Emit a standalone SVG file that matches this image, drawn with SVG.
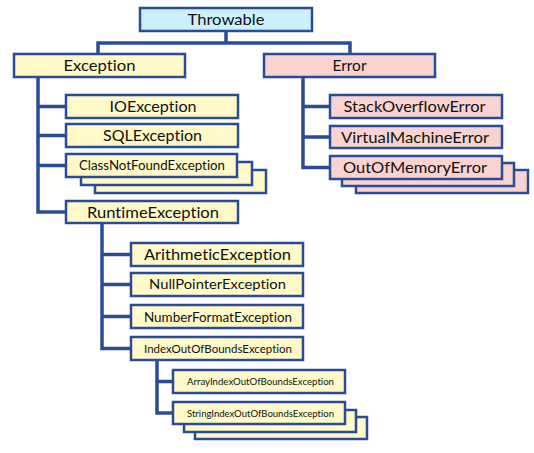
<svg xmlns="http://www.w3.org/2000/svg" width="534" height="453" viewBox="0 0 534 453">
<style>
.b{stroke:#2A4B96;stroke-width:2.5}
.y{fill:#FFFAC8}
.p{fill:#F9D3D0}
.c{fill:#CCF0FD}
text{font-family:Lato,"Liberation Sans",sans-serif;fill:#111;text-anchor:middle;font-variant-ligatures:none}
.l{font-size:16px}
.con{fill:none;stroke:#2A4B96;stroke-width:3.5;stroke-linejoin:miter}
</style>
<rect width="534" height="453" fill="#fff"/>
<g id="connectors">
<path class="con" d="M226 31V43M98 55V43H350V55"/>
<path class="con" d="M38 77V212H66M38 106.5H66M38 135.5H66M38 165.5H66"/>
<path class="con" d="M303 77V167.5H330M303 106.5H330M303 137H330"/>
<path class="con" d="M102 223V348.5H131M102 254.5H131M102 284.5H131M102 316.5H131"/>
<path class="con" d="M157 360V413H173M157 381.5H173"/>
</g>
<g id="throwable"><rect class="b c" x="140" y="8" width="172" height="23"/><text class="l" x="226" y="25.3" textLength="77" lengthAdjust="spacingAndGlyphs">Throwable</text></g>
<g id="exception"><rect class="b y" x="14" y="54" width="171" height="23"/><text class="l" x="99.5" y="71.3" textLength="72" lengthAdjust="spacingAndGlyphs">Exception</text></g>
<g id="error"><rect class="b p" x="264" y="54" width="171" height="23"/><text class="l" x="349.5" y="71.3" textLength="34" lengthAdjust="spacingAndGlyphs">Error</text></g>
<g id="ioexception"><rect class="b y" x="66" y="95" width="172" height="23"/><text class="l" x="153" y="112.3" textLength="87" lengthAdjust="spacingAndGlyphs">IOException</text></g>
<g id="sqlexception"><rect class="b y" x="66" y="124" width="172" height="23"/><text class="l" x="152.5" y="141.3" textLength="99" lengthAdjust="spacingAndGlyphs">SQLException</text></g>
<g id="classnotfound">
<rect class="b y" x="95" y="170" width="171" height="23"/>
<rect class="b y" x="81" y="162" width="171" height="23"/>
<rect class="b y" x="66" y="154" width="171" height="23"/>
<text style="font-size:12.5px" x="152" y="170" textLength="146" lengthAdjust="spacingAndGlyphs">ClassNotFoundException</text></g>
<g id="runtime"><rect class="b y" x="66" y="201" width="172" height="22"/><text class="l" x="153" y="217.8" textLength="132" lengthAdjust="spacingAndGlyphs">RuntimeException</text></g>
<g id="arithmetic"><rect class="b y" x="131" y="243" width="172" height="23"/><text style="font-size:15px" x="217.5" y="259.9" textLength="147" lengthAdjust="spacingAndGlyphs">ArithmeticException</text></g>
<g id="nullpointer"><rect class="b y" x="131" y="273" width="172" height="23"/><text style="font-size:13px" x="217.5" y="289.2" textLength="137" lengthAdjust="spacingAndGlyphs">NullPointerException</text></g>
<g id="numberformat"><rect class="b y" x="131" y="305" width="172" height="23"/><text style="font-size:14px" x="218" y="321.5" textLength="148" lengthAdjust="spacingAndGlyphs">NumberFormatException</text></g>
<g id="indexoutofbounds"><rect class="b y" x="131" y="337" width="172" height="23"/><text style="font-size:12px" x="218" y="352.8" textLength="148" lengthAdjust="spacingAndGlyphs">IndexOutOfBoundsException</text></g>
<g id="arrayindex"><rect class="b y" x="173" y="370" width="172" height="23"/><text style="font-size:10px" x="260.5" y="385.1" textLength="147" lengthAdjust="spacingAndGlyphs">ArrayIndexOutOfBoundsException</text></g>
<g id="stringindex">
<rect class="b y" x="195" y="417" width="172" height="22"/>
<rect class="b y" x="184" y="410" width="172" height="22"/>
<rect class="b y" x="173" y="402" width="172" height="22"/>
<text style="font-size:10px" x="260.5" y="416.6" textLength="147" lengthAdjust="spacingAndGlyphs">StringIndexOutOfBoundsException</text></g>
<g id="stackoverflow"><rect class="b p" x="330" y="95" width="172" height="23"/><text class="l" x="414.5" y="112.3" textLength="142" lengthAdjust="spacingAndGlyphs">StackOverflowError</text></g>
<g id="virtualmachine"><rect class="b p" x="330" y="126" width="172" height="22"/><text class="l" x="415" y="142.8" textLength="148" lengthAdjust="spacingAndGlyphs">VirtualMachineError</text></g>
<g id="outofmemory">
<rect class="b p" x="356" y="170" width="172" height="23"/>
<rect class="b p" x="342" y="163" width="172" height="23"/>
<rect class="b p" x="330" y="156" width="172" height="23"/>
<text class="l" x="415" y="173.3" textLength="144" lengthAdjust="spacingAndGlyphs">OutOfMemoryError</text></g>
</svg>
